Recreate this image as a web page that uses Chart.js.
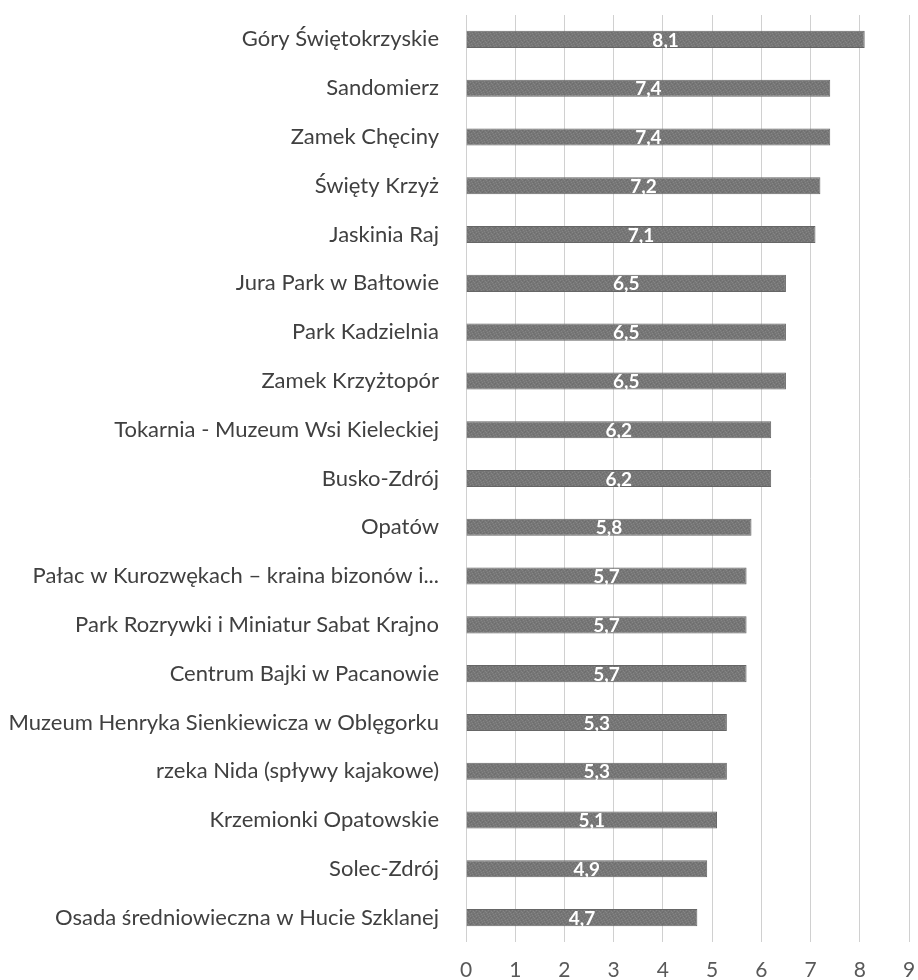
<!DOCTYPE html>
<html>
<head>
<meta charset="utf-8">
<script src="https://cdn.jsdelivr.net/npm/chart.js@4.4.0/dist/chart.umd.min.js"></script>
<style>
  html, body { margin: 0; padding: 0; background: #fff; }
  #wrap { width: 918px; height: 980px; }
</style>
</head>
<body>
<div id="wrap"><canvas id="chart" width="918" height="980"></canvas></div>
<script>
"use strict"

// categories, top to bottom
const places = [
    'Góry Świętokrzyskie',
    'Sandomierz',
    'Zamek Chęciny',
    'Święty Krzyż',
    'Jaskinia Raj',
    'Jura Park w Bałtowie',
    'Park Kadzielnia',
    'Zamek Krzyżtopór',
    'Tokarnia - Muzeum Wsi Kieleckiej',
    'Busko-Zdrój',
    'Opatów',
    'Pałac w Kurozwękach – kraina bizonów i...',
    'Park Rozrywki i Miniatur Sabat Krajno',
    'Centrum Bajki w Pacanowie',
    'Muzeum Henryka Sienkiewicza w Oblęgorku',
    'rzeka Nida (spływy kajakowe)',
    'Krzemionki Opatowskie',
    'Solec-Zdrój',
    'Osada średniowieczna w Hucie Szklanej'
];

// mean scores
const scores = [8.1, 7.4, 7.4, 7.2, 7.1, 6.5, 6.5, 6.5, 6.2, 6.2, 5.8, 5.7, 5.7, 5.7, 5.3, 5.3, 5.1, 4.9, 4.7];

const axisMax = 9;

const LABEL_FONT = 'Lato, "DejaVu Sans", sans-serif';

// speckled grey fill, like the excel texture
const makePattern = () => {
    const c = document.createElement('canvas');
    c.width = 6;
    c.height = 6;
    const g = c.getContext('2d');
    g.fillStyle = '#767676';
    g.fillRect(0, 0, 6, 6);
    g.fillStyle = '#858585';
    [[0, 0], [3, 1], [1, 2], [4, 3], [2, 4], [5, 5]].forEach(([x, y]) => g.fillRect(x, y, 1, 1));
    g.fillStyle = '#6c6c6c';
    [[2, 0], [5, 2], [0, 4], [3, 5]].forEach(([x, y]) => g.fillRect(x, y, 1, 1));
    return g.createPattern(c, 'repeat');
}

// value labels centred inside bars
const barLabels = {
    id: 'barLabels',
    afterDatasetsDraw(chart) {
        const ctx = chart.ctx;
        const meta = chart.getDatasetMeta(0);
        ctx.save();
        ctx.font = 'bold 19px ' + LABEL_FONT;
        ctx.fillStyle = '#ffffff';
        ctx.textAlign = 'center';
        ctx.textBaseline = 'middle';
        meta.data.forEach((bar, i) => {
            const txt = scores[i].toFixed(1).replace('.', ',');
            ctx.fillText(txt, (bar.x + bar.base) / 2, bar.y + 1);
        });
        ctx.restore();
    }
};

const ctx = document.getElementById('chart').getContext('2d');
new Chart(ctx, {
    type: 'bar',
    data: {
        labels: places,
        datasets: [{
            data: scores,
            backgroundColor: makePattern(),
            borderColor: '#666666',
            borderWidth: 1,
            barPercentage: 0.35,
            categoryPercentage: 1
        }]
    },
    options: {
        indexAxis: 'y',
        responsive: false,
        animation: false,
        layout: { padding: { top: 15, right: 0, bottom: 0, left: 0 } },
        plugins: {
            legend: { display: false },
            tooltip: { enabled: false }
        },
        scales: {
            x: {
                min: 0,
                max: axisMax,
                afterFit: (s) => { s.height = 38; s.paddingRight = 9; },
                ticks: {
                    stepSize: 1,
                    color: '#595959',
                    font: { family: LABEL_FONT, size: 21 },
                    padding: 16
                },
                grid: { color: '#d0d0d0', lineWidth: 1, drawTicks: false },
                border: { display: false }
            },
            y: {
                afterFit: (s) => {
                    s.width = 466;
                    s.paddingTop = 0;
                    s.paddingBottom = 0;
                },
                ticks: {
                    color: '#404040',
                    font: { family: LABEL_FONT, size: 22 },
                    padding: 27
                },
                grid: { display: false, drawTicks: false },
                border: { display: false }
            }
        }
    },
    plugins: [barLabels]
});
</script>
</body>
</html>
